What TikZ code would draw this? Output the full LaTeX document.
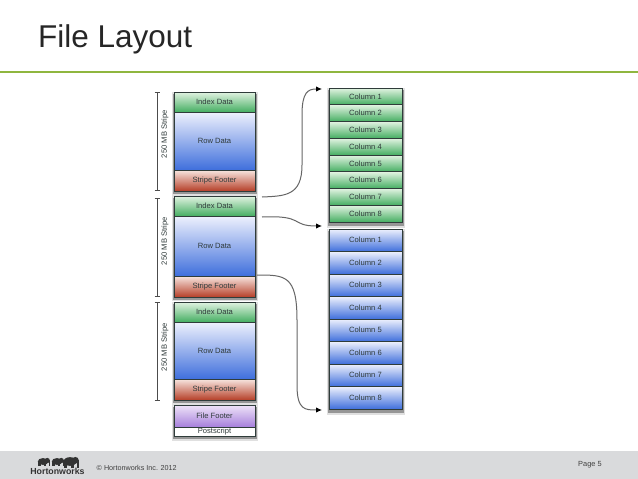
\documentclass[tikz,border=0pt]{standalone}
\usepackage{fontspec}
\setmainfont{Liberation Sans}
\usetikzlibrary{arrows.meta}
\definecolor{band}{HTML}{D9DADC}
\definecolor{rule}{HTML}{8FB63F}
\definecolor{ink}{HTML}{2F3A3A}
\definecolor{edge}{HTML}{2F3C3A}
\definecolor{GT}{HTML}{E2F3E2}\definecolor{GB}{HTML}{45AE62}
\definecolor{BT}{HTML}{EEF1FD}\definecolor{BB}{HTML}{3F6FDC}
\definecolor{RT}{HTML}{F7E6E0}\definecolor{RB}{HTML}{B63F28}
\definecolor{PT}{HTML}{EFE4F8}\definecolor{PB}{HTML}{A67FDC}
\tikzset{
  x=1pt,y=-1pt,
  cell/.style={draw=edge,line width=0.9pt,anchor=north west,inner sep=0pt,outer sep=0pt,
     text=ink,font=\fontsize{7.6}{8}\selectfont,align=center},
  lw/.style={cell,minimum width=81pt},
  rw/.style={cell,minimum width=73pt},
  green/.style={top color=GT,bottom color=GB},
  blue/.style={top color=BT,bottom color=BB},
  red/.style={top color=RT,bottom color=RB},
  purple/.style={top color=PT,bottom color=PB},
  stack/.style={fill=black!60,draw=none,opacity=.6},
  haze/.style={fill=black!40,draw=none,opacity=.3},
  brace/.style={draw=black!70,line width=0.7pt},
  lab/.style={rotate=90,text=ink,font=\fontsize{7.6}{8}\selectfont,inner sep=0pt},
  link/.style={draw=black!60,line width=1pt,-{Latex[length=6pt,width=5.5pt,black]}},
  ele/.style={fill=black!80,draw=none}
}
\begin{document}
\begin{tikzpicture}
\useasboundingbox (0,0) rectangle (638,479);
\fill[white] (0,0) rectangle (638,479);
\node[anchor=base west,inner sep=0pt,font=\fontsize{31.5}{34}\selectfont,text=black!85] (title) at (38,47) {File Layout};
\fill[rule] (0,70.5) rectangle (638,72.5);
% footer band
\fill[band] (0,450.5) rectangle (638,479);
% shadows
\fill[haze] (172,92) rectangle (258,196);
\fill[haze] (172,196) rectangle (258,301);
\fill[haze] (172,302) rectangle (258,405);
\fill[haze] (172,405) rectangle (258,441);
\fill[haze] (327,88) rectangle (405,228);
\fill[haze] (327,229) rectangle (405,415);
\fill[stack] (173,94) rectangle (257,193.5);
\fill[stack] (173,198) rectangle (257,299.5);
\fill[stack] (173,304) rectangle (257,402.5);
\fill[stack] (173,407) rectangle (257,439);
\fill[stack] (328,90) rectangle (404,225.5);
\fill[stack] (328,231) rectangle (404,412.5);
% left stack
\node[lw,green,minimum height=20pt] (i1) at (174,92) {Index Data};
\node[lw,blue,minimum height=58pt] (d1) at (174,112) {Row Data};
\node[lw,red,minimum height=21pt] (f1) at (174,170) {Stripe Footer};
\node[lw,green,minimum height=20pt] (i2) at (174,196) {Index Data};
\node[lw,blue,minimum height=60pt] (d2) at (174,216) {Row Data};
\node[lw,red,minimum height=21pt] (f2) at (174,276) {Stripe Footer};
\node[lw,green,minimum height=20pt] (i3) at (174,302) {Index Data};
\node[lw,blue,minimum height=57pt] (d3) at (174,322) {Row Data};
\node[lw,red,minimum height=21pt] (f3) at (174,379) {Stripe Footer};
\node[lw,purple,minimum height=22pt] (ff) at (174,405) {File Footer};
\node[lw,fill=white,minimum height=9pt] (ps) at (174,427) {Postscript};
% right stacks
\foreach \n in {1,...,8}{
  \pgfmathsetmacro\yy{88+(\n-1)*16.75}
  \node[rw,green,minimum height=16.75pt] (g\n) at (329,\yy) {Column \n};
  \pgfmathsetmacro\zz{229+(\n-1)*22.5}
  \node[rw,blue,minimum height=22.5pt] (b\n) at (329,\zz) {Column \n};
}
% stripe size brackets
\coordinate (s1t) at (157,92); \coordinate (s1b) at (157,190);
\coordinate (s2t) at (157,198); \coordinate (s2b) at (157,296);
\coordinate (s3t) at (157,302); \coordinate (s3b) at (157,400);
\foreach \a/\b in {s1t/s1b,s2t/s2b,s3t/s3b}{
  \draw[brace] (\a) -- (\b);
  \draw[brace] ([xshift=-2.5pt]\a) -- ([xshift=2.5pt]\a);
  \draw[brace] ([xshift=-2.5pt]\b) -- ([xshift=2.5pt]\b);
}
\node[lab] (l1) at (165,134) {250 MB Stripe};
\node[lab] (l2) at (165,241) {250 MB Stripe};
\node[lab] (l3) at (165,347) {250 MB Stripe};
% connectors
\coordinate (a1) at (262,197); \coordinate (e1) at (322,89);
\coordinate (a2) at (262,217); \coordinate (e2) at (322,226);
\coordinate (a3) at (257,275); \coordinate (e3) at (322,410);
\draw[link] (a1) .. controls (285,196) and (302,196) .. (302,165) -- (302,115) .. controls (302,92) and (308,89) .. (e1);
\draw[link] (a2) .. controls (305,215) and (290,226) .. (e2);
\draw[link] (a3) .. controls (285,275) and (297,275) .. (297,320) -- (297,385) .. controls (297,410) and (305,410) .. (e3);
% logo
\foreach \ex/\s in {43/0.95,57/0.95,70/1.2}{
  \begin{scope}[shift={(\ex,461.5)},scale=\s]
    \fill[ele] (0,0) ellipse (5.5 and 3.6);
    \fill[ele] (4.5,-1) circle (2.8);
    \fill[ele] (-4.8,0) rectangle (-2.3,5);
    \fill[ele] (1.2,0) rectangle (3.6,5);
    \fill[ele] (5.8,-1) rectangle (7.6,5);
  \end{scope}
}
\node[inner sep=0pt,font=\bfseries\fontsize{8.8}{10}\selectfont,text=black!80] (brand) at (57.5,471.5) {Hortonworks};
\node[anchor=west,inner sep=0pt,font=\fontsize{7.2}{9}\selectfont,text=black!75] (copy) at (96.5,468) {© Hortonworks Inc. 2012};
\node[anchor=west,inner sep=0pt,font=\fontsize{7.4}{9}\selectfont,text=black!75] (page) at (578,465) {Page 5};
\end{tikzpicture}
\end{document}
